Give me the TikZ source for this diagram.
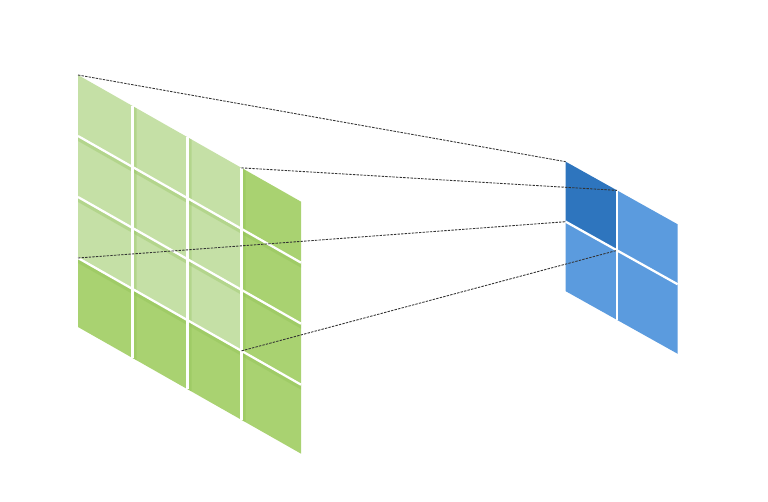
\documentclass[tikz,border=0pt]{standalone}
\usetikzlibrary{calc}
\definecolor{glight}{HTML}{C5E0A6}
\definecolor{gdark}{HTML}{A9D271}
\definecolor{gshade}{HTML}{86BC4A}
\definecolor{bdark}{HTML}{2E75BE}
\definecolor{blight}{HTML}{5B9BDE}
\tikzset{
  gap/.style={white, line width=1.7pt},
  shade/.style={fill=gshade, opacity=0.28},
  link/.style={black!80, line width=0.65pt, dash pattern=on 1.8pt off 0.9pt},
}
\begin{document}
\begin{tikzpicture}[x=0.75pt,y=-0.75pt]
\useasboundingbox[fill=white] (0,0) rectangle (768,502);
% green grid corners
\foreach \x [count=\i from 0] in {78,132.5,187.5,241.5,301}{
  \foreach \r [count=\j from 0] in {0,61,122,183,252}{
    \coordinate (g-\i-\j) at (\x, {75+\r+0.568*(\x-78)});
  }
}
% blue grid corners
\foreach \x [count=\i from 0] in {565.7,617,677.7}{
  \foreach \r [count=\j from 0] in {0,60,129.5}{
    \coordinate (b-\i-\j) at (\x, {161.7+\r+0.559*(\x-565.7)});
  }
}
% green cells
\foreach \i in {0,1,2,3}{
  \foreach \j in {0,1,2,3}{
    \pgfmathtruncatemacro\ii{\i+1}
    \pgfmathtruncatemacro\jj{\j+1}
    \ifnum\i<3 \ifnum\j<3 \def\cc{glight}\else\def\cc{gdark}\fi\else\def\cc{gdark}\fi
    \fill[\cc] (g-\i-\j) -- (g-\ii-\j) -- (g-\ii-\jj) -- (g-\i-\jj) -- cycle;
  }
}
% soft shading next to the inner lines
\foreach \i in {1,2,3}{
  \fill[shade] (g-\i-0) -- ($(g-\i-0)+(4,2.3)$) -- ($(g-\i-4)+(4,2.3)$) -- (g-\i-4) -- cycle;
}
\foreach \j in {1,2,3}{
  \fill[shade] (g-0-\j) -- (g-4-\j) -- ($(g-4-\j)+(0,5)$) -- ($(g-0-\j)+(0,5)$) -- cycle;
}
% green separating lines
\foreach \i in {1,2,3}{ \draw[gap] (g-\i-0) -- (g-\i-4); }
\foreach \j in {1,2,3}{ \draw[gap] (g-0-\j) -- (g-4-\j); }
% blue cells
\foreach \i in {0,1}{
  \foreach \j in {0,1}{
    \pgfmathtruncatemacro\ii{\i+1}
    \pgfmathtruncatemacro\jj{\j+1}
    \pgfmathtruncatemacro\s{\i+\j}
    \ifnum\s=0 \def\cc{bdark}\else\def\cc{blight}\fi
    \fill[\cc] (b-\i-\j) -- (b-\ii-\j) -- (b-\ii-\jj) -- (b-\i-\jj) -- cycle;
  }
}
\draw[gap] (b-1-0) -- (b-1-2);
\draw[gap] (b-0-1) -- (b-2-1);
% receptive field links
\draw[link] (g-0-0) -- (b-0-0);
\draw[link] (g-3-0) -- (b-1-0);
\draw[link] (g-0-3) -- (b-0-1);
\draw[link] (g-3-3) -- (b-1-1);
\end{tikzpicture}
\end{document}
